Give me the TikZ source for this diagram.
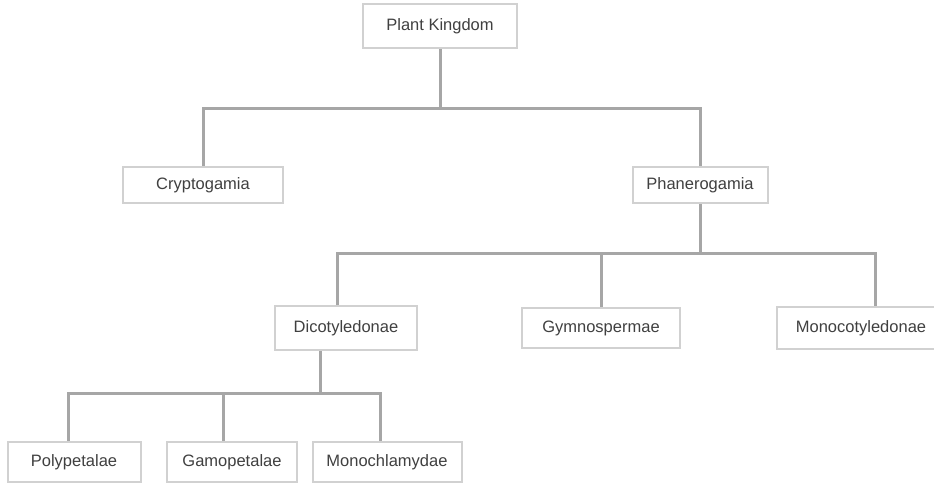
\documentclass[tikz,border=0pt]{standalone}
\usepackage{fontspec}
\setmainfont{Liberation Sans}
\usetikzlibrary{calc}
\begin{document}
\begin{tikzpicture}[x=1pt,y=-1pt,
  box/.style={draw=black!18,line width=2pt,fill=white,inner sep=0pt,
    font=\fontsize{16.5}{19}\selectfont,text=black!75},
  conn/.style={draw=black!35,line width=3pt}]
\useasboundingbox (0,0) rectangle (934,483);
\node[box,minimum width=154pt,minimum height=44pt] (pk) at (440,26) {Plant Kingdom};
\node[box,minimum width=160pt,minimum height=36pt] (cry) at (203,185) {Cryptogamia};
\node[box,minimum width=135pt,minimum height=36pt] (phan) at (700,185) {Phanerogamia};
\node[box,minimum width=142pt,minimum height=44pt] (dico) at (346,328) {Dicotyledonae};
\node[box,minimum width=158pt,minimum height=40pt] (gym) at (601,328) {Gymnospermae};
\node[box,minimum width=168pt,minimum height=42pt] (mono) at (861,328) {Monocotyledonae};
\node[box,minimum width=133pt,minimum height=40pt] (poly) at (74,462) {Polypetalae};
\node[box,minimum width=130pt,minimum height=40pt] (gamo) at (232,462) {Gamopetalae};
\node[box,minimum width=149pt,minimum height=40pt] (monoch) at (387,462) {Monochlamydae};
% level 1
\coordinate (b1) at ($(pk.south)+(0,59)$);
\draw[conn] (pk.south) -- (b1);
\draw[conn] (cry.north) -- (cry.north |- b1) -- (phan.north |- b1) -- (phan.north);
% level 2
\coordinate (b2) at ($(phan.south)+(0,49)$);
\coordinate (d1) at ($(dico.north)+(-9,0)$);
\coordinate (m1) at ($(mono.north)+(14,0)$);
\draw[conn] (phan.south) -- (b2);
\draw[conn] (d1) -- (d1 |- b2) -- (m1 |- b2) -- (m1);
\draw[conn] (gym.north) -- (gym.north |- b2);
% level 3
\coordinate (d2) at ($(dico.south)+(-26,0)$);
\coordinate (b3) at ($(d2)+(0,42)$);
\coordinate (p1) at ($(poly.north)+(-6,0)$);
\coordinate (g1) at ($(gamo.north)+(-9,0)$);
\coordinate (c1) at ($(monoch.north)+(-7,0)$);
\draw[conn] (d2) -- (b3);
\draw[conn] (p1) -- (p1 |- b3) -- (c1 |- b3) -- (c1);
\draw[conn] (g1) -- (g1 |- b3);
\end{tikzpicture}
\end{document}
